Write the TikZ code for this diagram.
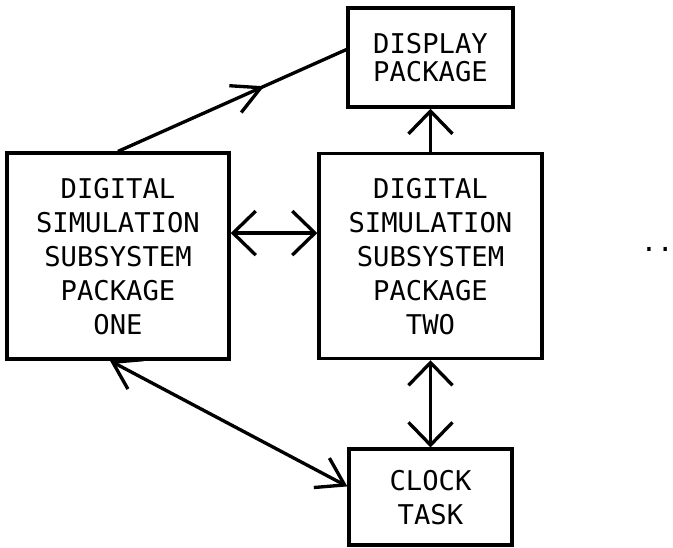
\documentclass[tikz,border=0pt]{standalone}
\usepackage{fontspec}
\setmonofont{DejaVu Sans Mono}
\usepackage{tikz}
\usetikzlibrary{matrix,arrows.meta,calc,decorations.markings}

\begin{document}
\begin{tikzpicture}[line width=2.5pt,
  >={Straight Barb[length=17pt,width=33pt]},
  box/.style={draw, align=center, inner sep=0pt, font=\ttfamily\fontsize{20.4pt}{25.5pt}\selectfont},
  mid/.style={postaction={decorate, decoration={markings,
    mark=at position 0.64 with {\arrow{Straight Barb[length=21pt,width=22pt]}}}}}]
  \matrix (m) [row sep=32pt, column sep=65pt, inner sep=0pt]
  {
    & \node (disp) [box, minimum width=123.75pt, minimum height=74.25pt, text depth=-9.8pt,
        font=\ttfamily\fontsize{20.4pt}{21.4pt}\selectfont] {DISPLAY\\PACKAGE}; \\
    \node (one) [box, minimum width=166.5pt, minimum height=154.5pt, text depth=-5.7pt]
        {DIGITAL\\SIMULATION\\SUBSYSTEM\\PACKAGE\\ONE}; &
    \node (two) [box, minimum width=167.25pt, minimum height=153.75pt, text depth=-11.7pt]
        {DIGITAL\\SIMULATION\\SUBSYSTEM\\PACKAGE\\TWO}; \\[33pt]
    & \node (clock) [box, minimum width=122.25pt, minimum height=72pt, text depth=-15.8pt]
        {CLOCK\\TASK}; \\
  };
  \node (dots) at ($(two)+(170pt,4.9pt)$) [font=\ttfamily\fontsize{20.4pt}{25.5pt}\selectfont, inner sep=0pt] {..};

  \path[->]
  (two.north -| disp.south) edge (disp.south)
  ([yshift=17.25pt]one.east) edge[<->] ([yshift=17.25pt]one.east -| two.west)
  (two.south -| clock.north) edge[<->] (clock.north)
  ([xshift=-6pt]one.south) edge[<->, >={Straight Barb[length=19.5pt,width=25pt]}] ([yshift=8pt]clock.west)
  ;
  \draw[mid] (one.north) -- ([yshift=6pt]disp.west);

  \pgfresetboundingbox
  \path[use as bounding box] ($(one.west |- disp.north)+(-4pt,4.8pt)$) rectangle ++(504.75pt,-410.25pt);
\end{tikzpicture}
\end{document}
